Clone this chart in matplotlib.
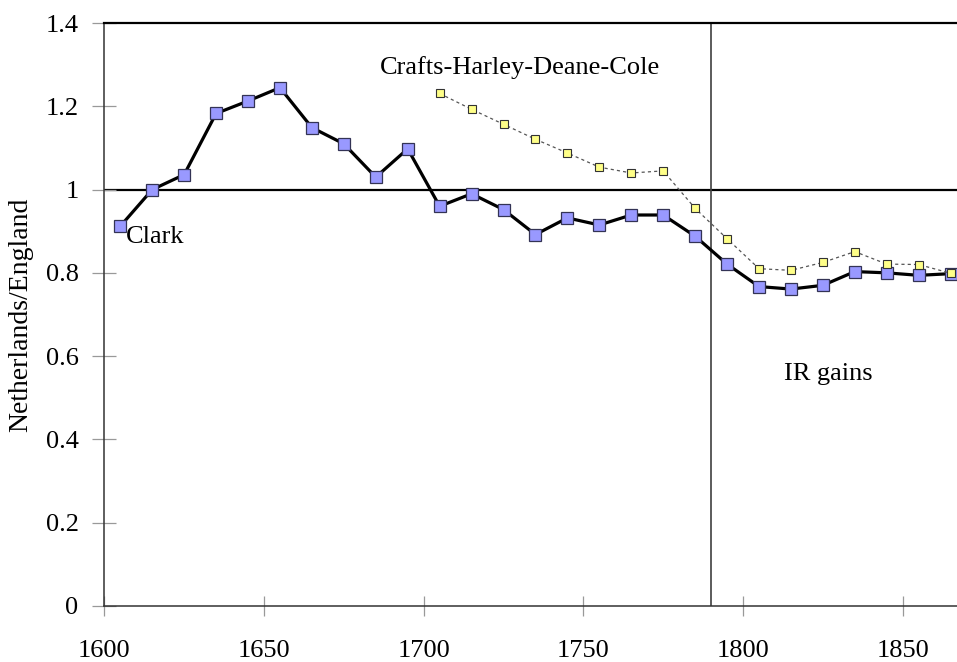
# Netherlands / England ratio chart (Clark vs Crafts-Harley-Deane-Cole)

import matplotlib.pyplot as plt

# data
clark_years = [1605, 1615, 1625, 1635, 1645, 1655, 1665, 1675, 1685, 1695,
               1705, 1715, 1725, 1735, 1745, 1755, 1765, 1775, 1785, 1795,
               1805, 1815, 1825, 1835, 1845, 1855, 1865]
clark_vals = [0.912, 1.000, 1.036, 1.183, 1.213, 1.245, 1.149, 1.110, 1.030, 1.098,
              0.960, 0.990, 0.952, 0.892, 0.932, 0.915, 0.939, 0.939, 0.888, 0.821,
              0.767, 0.761, 0.770, 0.803, 0.800, 0.794, 0.798]

chdc_years = [1705, 1715, 1725, 1735, 1745, 1755, 1765, 1775, 1785, 1795,
              1805, 1815, 1825, 1835, 1845, 1855, 1865]
chdc_vals = [1.231, 1.193, 1.157, 1.121, 1.088, 1.054, 1.040, 1.045, 0.955, 0.882,
             0.810, 0.806, 0.825, 0.851, 0.821, 0.820, 0.799]

x_ticks = [1600, 1650, 1700, 1750, 1800, 1850]
y_ticks = [0, 0.2, 0.4, 0.6, 0.8, 1.0, 1.2, 1.4]
y_tick_labels = ["0", "0.2", "0.4", "0.6", "0.8", "1", "1.2", "1.4"]

ir_year = 1790

plt.rcParams['font.family'] = ['Liberation Serif', 'DejaVu Serif']

fig = plt.figure(figsize=(9.57, 6.62), dpi=100)
ax = fig.add_axes([0.109, 0.085, 0.891, 0.880])

# reference lines
ax.axhline(1.0, color='black', lw=1.6, zorder=1)
ax.axvline(ir_year, color='#404040', lw=1.2, zorder=1)

# the two series
ax.plot(clark_years, clark_vals, color='black', lw=2.3, marker='s', markersize=8.5,
        markerfacecolor='#9999ff', markeredgecolor='#333355', markeredgewidth=0.9,
        zorder=3, clip_on=False)
ax.plot(chdc_years, chdc_vals, color='#555555', lw=0.9, linestyle=(0, (2.5, 2.5)),
        marker='s', markersize=5.5, markerfacecolor='#ffff88',
        markeredgecolor='#333333', markeredgewidth=0.8, zorder=4, clip_on=False)

# text labels on the chart
ax.text(1606.8, 0.885, "Clark", fontsize=19, va='center', ha='left')
ax.text(1686.2, 1.294, "Crafts-Harley-Deane-Cole", fontsize=19, va='center', ha='left')
ax.text(1812.7, 0.558, "IR gains", fontsize=19, va='center', ha='left')

ax.set_xlim(1600, 1867)
ax.set_ylim(0, 1.4)
ax.set_xticks(x_ticks)
ax.set_yticks(y_ticks)
ax.set_yticklabels(y_tick_labels)

ax.set_ylabel("Netherlands/England", fontsize=20, labelpad=9)

# axes look like the old excel chart
ax.spines['right'].set_visible(False)
ax.spines['top'].set_color('black')
ax.spines['top'].set_linewidth(1.6)
ax.spines['left'].set_color('#333333')
ax.spines['left'].set_linewidth(1.1)
ax.spines['bottom'].set_color('#333333')
ax.spines['bottom'].set_linewidth(1.1)

ax.tick_params(axis='y', direction='inout', length=17, width=0.9, color='#999999',
               labelsize=19, pad=10)
ax.tick_params(axis='x', direction='inout', length=14, width=0.9, color='#999999',
               labelsize=19, pad=18)

fig.savefig("out.png", dpi=100)
